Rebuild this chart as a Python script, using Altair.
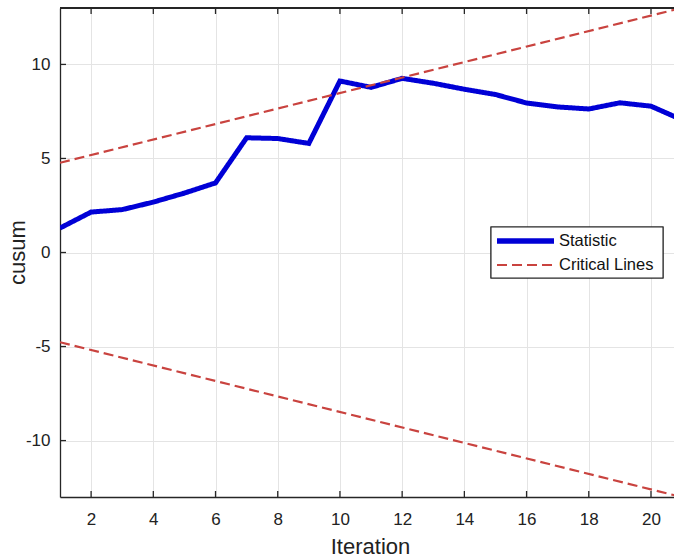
import altair as alt
import pandas as pd

# ---- data ----
iterations = list(range(1, 22))
statistic = [1.30, 2.15, 2.28, 2.68, 3.16, 3.70, 6.10, 6.06, 5.80, 9.12, 8.78,
             9.26, 9.00, 8.68, 8.40, 7.95, 7.74, 7.63, 7.96, 7.78, 7.05]
crit_x = [1, 21]
crit_upper = [4.77, 13.01]
crit_lower = [-4.77, -13.01]
series_names = ["Statistic", "Critical Lines"]
series_colors = ["#0000d6", "#c9433f"]
x_ticks = [2, 4, 6, 8, 10, 12, 14, 16, 18, 20]
y_ticks = [-10, -5, 0, 5, 10]

W, H = 614, 489
FONT = "Liberation Sans"
AX = "#262626"

stat_df = pd.DataFrame({"Iteration": iterations, "cusum": statistic,
                        "series": "Statistic", "part": "stat"})
up_df = pd.DataFrame({"Iteration": crit_x, "cusum": crit_upper,
                      "series": "Critical Lines", "part": "upper"})
lo_df = pd.DataFrame({"Iteration": crit_x, "cusum": crit_lower,
                      "series": "Critical Lines", "part": "lower"})
df = pd.concat([stat_df, up_df, lo_df], ignore_index=True)

xscale = alt.Scale(domain=[1, 20.74], nice=False, zero=False)
yscale = alt.Scale(domain=[-13, 13], nice=False, zero=False)
x_axis = alt.Axis(values=x_ticks, title="Iteration", grid=True, ticks=False,
                  labelPadding=14, titlePadding=9, titleX=310,
                  labelExpr="'' + datum.value")
y_axis = alt.Axis(values=y_ticks, title="cusum", grid=True, ticks=False,
                  labelPadding=10, titleX=-36, titleY=244,
                  titleBaseline="alphabetic",
                  labelExpr="'' + datum.value")

lines = alt.Chart(df).mark_line(clip=True).encode(
    x=alt.X("Iteration:Q", scale=xscale, axis=x_axis),
    y=alt.Y("cusum:Q", scale=yscale, axis=y_axis),
    color=alt.Color("series:N",
                    scale=alt.Scale(domain=series_names, range=series_colors),
                    legend=None),
    strokeDash=alt.StrokeDash("series:N",
                              scale=alt.Scale(domain=series_names,
                                              range=[[1, 0], [10, 5]]),
                              legend=None),
    strokeWidth=alt.StrokeWidth("series:N",
                                scale=alt.Scale(domain=series_names,
                                                range=[5, 2.2]),
                                legend=None),
    detail="part:N",
)

tick_x_df = pd.DataFrame({"Iteration": x_ticks})
tick_y_df = pd.DataFrame({"cusum": y_ticks})

bottom_ticks = alt.Chart(tick_x_df).mark_rule(color=AX, strokeWidth=1.3).encode(
    x=alt.X("Iteration:Q", scale=xscale, axis=x_axis),
    y=alt.value(H - 6), y2=alt.value(H))
top_ticks = alt.Chart(tick_x_df).mark_rule(color=AX, strokeWidth=1.3).encode(
    x=alt.X("Iteration:Q", scale=xscale, axis=x_axis),
    y=alt.value(0), y2=alt.value(6))
left_ticks = alt.Chart(tick_y_df).mark_rule(color=AX, strokeWidth=1.3).encode(
    y=alt.Y("cusum:Q", scale=yscale, axis=y_axis),
    x=alt.value(0), x2=alt.value(6))
top_border = alt.Chart(tick_x_df).mark_rule(color=AX, strokeWidth=1.4).encode(
    x=alt.value(0), x2=alt.value(W), y=alt.value(0))

# ---- legend box (drawn as marks) ----
leg_df = pd.DataFrame({"series": series_names})
legend_box = alt.Chart(leg_df).mark_rect(
    fill="white", stroke=AX, strokeWidth=1.1).encode(
    x=alt.value(431), x2=alt.value(603), y=alt.value(219), y2=alt.value(270))
leg_stat_line = alt.Chart(leg_df).mark_rule(
    color=series_colors[0], strokeWidth=5).encode(
    x=alt.value(437), x2=alt.value(494), y=alt.value(233))
leg_crit_line = alt.Chart(leg_df).mark_rule(
    color=series_colors[1], strokeWidth=2.2, strokeDash=[10, 5]).encode(
    x=alt.value(437), x2=alt.value(494), y=alt.value(257))
leg_stat_text = alt.Chart(leg_df).transform_filter(
    alt.datum.series == series_names[0]).mark_text(
    align="left", baseline="middle", font=FONT, fontSize=16.5,
    color="#111111").encode(
    x=alt.value(499), y=alt.value(233), text="series:N")
leg_crit_text = alt.Chart(leg_df).transform_filter(
    alt.datum.series == series_names[1]).mark_text(
    align="left", baseline="middle", font=FONT, fontSize=16.5,
    color="#111111").encode(
    x=alt.value(499), y=alt.value(257), text="series:N")

chart = alt.layer(
    lines, top_border, bottom_ticks, top_ticks, left_ticks,
    legend_box, leg_stat_line, leg_crit_line, leg_stat_text, leg_crit_text,
).properties(
    width=W, height=H,
    background="white",
    autosize=alt.AutoSizeParams(type="none"),
    padding={"left": 60, "top": 8, "right": 0, "bottom": 62},
).configure_view(stroke=None).configure_axis(
    domainColor=AX, domainWidth=1.3,
    gridColor="#e4e4e4", gridWidth=1,
    labelFont=FONT, labelFontSize=17, labelColor="#222222",
    titleFont=FONT, titleFontSize=22, titleFontWeight="normal",
    titleColor="#222222",
)

chart.save("out.html", embed_options={"renderer": "svg", "actions": False})
